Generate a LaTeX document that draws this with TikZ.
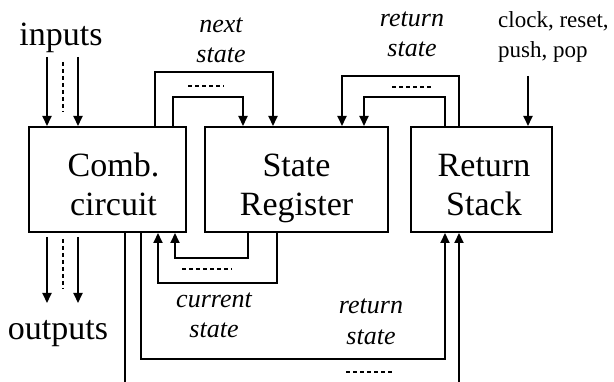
\documentclass[tikz,border=0pt]{standalone}
\usepackage{fontspec}
\setmainfont{Liberation Serif}
\usetikzlibrary{arrows.meta}
\tikzset{
  box/.style={draw,line width=2pt,minimum height=105pt,inner sep=0pt,align=center,
              font=\fontsize{34}{39}\selectfont},
  wire/.style={line width=2pt},
  arr/.style={wire,-{Triangle[length=10pt,width=9pt]}},
  dsh/.style={line width=2pt,dash pattern=on 4pt off 3pt},
  lab/.style={align=center,anchor=base,inner sep=0pt,font=\fontsize{26}{30}\selectfont\itshape},
  big/.style={anchor=base,inner sep=0pt,font=\fontsize{34}{39}\selectfont},
}
\newcommand\tallstrut{\rule{0pt}{40pt}}
\begin{document}
\begin{tikzpicture}[x=1pt,y=-1pt]
\useasboundingbox (0,0) rectangle (614,382);
% boxes
\node[box,minimum width=157pt] (comb) at (107.5,179.5) {\tallstrut\hspace*{12pt}Comb.\\\hspace*{12pt}circuit\vphantom{g}};
\node[box,minimum width=183pt] (sr) at (296.5,179.5) {\tallstrut State\\Register};
\node[box,minimum width=141pt] (rs) at (481.5,179.5) {\tallstrut\hspace*{5pt}Return\\\hspace*{5pt}Stack\vphantom{g}};
% texts
\node[big] (inputs) at (61,46) {inputs};
\node[big] (outputs) at (58,340) {outputs};
\node[lab] (nslab) at (221,63) {next\\state};
\node[lab] (rtlab) at (412,57) {return\\state};
\node[lab] (cslab) at (214,338) {current\\state};
\node[lab] (rblab) at (371,345) {return\\[2pt]state};
\node[anchor=base west,inner sep=0pt,align=left,font=\fontsize{23}{30}\selectfont] (clk) at (498,58) {clock, reset,\\push, pop};
% inputs
\coordinate (i1) at (47,57);
\coordinate (i2) at (78,57);
\coordinate (id1) at (63,62);
\coordinate (id2) at (63,112);
\draw[arr] (i1) -- (i1 |- comb.north);
\draw[arr] (i2) -- (i2 |- comb.north);
\draw[dsh] (id1) -- (id2);
% outputs
\coordinate (o1) at (47,237);
\coordinate (o2) at (78,237);
\coordinate (o1e) at (47,303);
\coordinate (o2e) at (78,303);
\coordinate (od1) at (63,239);
\coordinate (od2) at (63,289);
\draw[arr] (o1) -- (o1e);
\draw[arr] (o2) -- (o2e);
\draw[dsh] (od1) -- (od2);
% next state
\coordinate (n1a) at (155,72);
\coordinate (n1b) at (273,72);
\coordinate (n2a) at (173,97);
\coordinate (n2b) at (243,97);
\draw[arr] (n1a |- comb.north) -- (n1a) -- (n1b) -- (n1b |- sr.north);
\draw[arr] (n2a |- comb.north) -- (n2a) -- (n2b) -- (n2b |- sr.north);
\coordinate (nd1) at (188,86);
\coordinate (nd2) at (224,86);
\draw[dsh] (nd1) -- (nd2);
% return state (top)
\coordinate (r1a) at (459,76);
\coordinate (r1b) at (342,76);
\coordinate (r2a) at (445,97);
\coordinate (r2b) at (364,97);
\draw[arr] (r1a |- rs.north) -- (r1a) -- (r1b) -- (r1b |- sr.north);
\draw[arr] (r2a |- rs.north) -- (r2a) -- (r2b) -- (r2b |- sr.north);
\coordinate (rd1) at (392,87);
\coordinate (rd2) at (432,87);
\draw[dsh] (rd1) -- (rd2);
% clock
\coordinate (ck) at (528,76);
\draw[arr] (ck) -- (ck |- rs.north);
% current state
\coordinate (c1a) at (277,283);
\coordinate (c1b) at (158,283);
\coordinate (c2a) at (248,258);
\coordinate (c2b) at (175,258);
\draw[arr] (c1a |- sr.south) -- (c1a) -- (c1b) -- (c1b |- comb.south);
\draw[arr] (c2a |- sr.south) -- (c2a) -- (c2b) -- (c2b |- comb.south);
\coordinate (cd1) at (182,269);
\coordinate (cd2) at (232,269);
\draw[dsh] (cd1) -- (cd2);
% return state (bottom)
\coordinate (b1a) at (141,359);
\coordinate (b1b) at (445,359);
\draw[arr] (b1a |- comb.south) -- (b1a) -- (b1b) -- (b1b |- rs.south);
\coordinate (bl) at (125,382);
\draw[wire] (bl |- comb.south) -- (bl);
\coordinate (br) at (459,382);
\draw[arr] (br) -- (br |- rs.south);
\coordinate (bd1) at (346,372);
\coordinate (bd2) at (394,372);
\draw[dsh] (bd1) -- (bd2);
\end{tikzpicture}
\end{document}
